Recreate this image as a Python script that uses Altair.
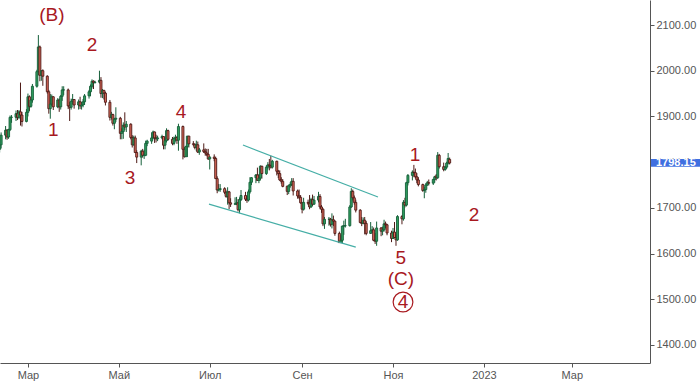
import altair as alt
import pandas as pd
import numpy as np

# ---- daily OHLC (business days 2022-02-10 .. 2022-12-09) ----
feb_o = [1828,1838,1859,1870,1855,1871,1898,1898,1906,1898,1910,1903,1889]
feb_h = [1843,1865,1879,1872,1873,1902,1903,1913,1914,1914,1974,1910,1916]
feb_l = [1821,1830,1850,1849,1851,1868,1886,1890,1892,1894,1880,1878,1887]
feb_c = [1838,1859,1870,1855,1871,1898,1898,1906,1898,1910,1903,1889,1909]

mar_o = [1909,1943,1922,1936,1966,1998,2052,1990,2000,1988,1954,1917,1927,1943,1921,1936,1921,1944,1958,1958,1923,1920,1933]
mar_h = [1950,1946,1937,1971,2002,2078,2055,2001,2003,1990,1958,1949,1948,1944,1940,1939,1947,1966,1966,1961,1932,1939,1949]
mar_l = [1900,1912,1919,1930,1963,1990,1977,1978,1967,1950,1906,1895,1923,1914,1918,1910,1915,1934,1947,1916,1890,1915,1926]
mar_c = [1943,1922,1936,1966,1998,2052,1990,2000,1988,1954,1917,1927,1943,1921,1936,1921,1944,1958,1958,1923,1920,1933,1937]

apr_o = [1937,1925,1932,1923,1925,1932,1945,1954,1966,1977,1974,1975,1979,1950,1957,1951,1931,1898,1904,1885,1894]
apr_h = [1938,1937,1943,1932,1938,1949,1958,1970,1981,1979,1978,2000,1986,1960,1958,1954,1936,1910,1906,1897,1920]
apr_l = [1917,1915,1916,1915,1920,1925,1939,1944,1961,1960,1972,1972,1941,1940,1937,1924,1891,1893,1880,1872,1888]
apr_c = [1925,1932,1923,1925,1932,1945,1954,1966,1977,1974,1975,1979,1950,1957,1951,1931,1898,1904,1885,1894,1896]

may_o = [1896,1863,1867,1881,1877,1883,1854,1838,1853,1821,1811,1824,1815,1815,1841,1846,1853,1866,1853,1851,1853,1856]
may_h = [1899,1874,1887,1909,1890,1885,1859,1858,1858,1826,1827,1829,1827,1847,1849,1865,1869,1867,1860,1858,1860,1857]
may_l = [1850,1850,1851,1870,1866,1850,1832,1836,1820,1798,1793,1810,1807,1813,1835,1840,1850,1842,1843,1846,1850,1828]
may_c = [1863,1867,1881,1877,1883,1854,1838,1853,1821,1811,1824,1815,1815,1841,1846,1853,1866,1853,1851,1853,1856,1837]

jun_o = [1837,1847,1869,1850,1841,1852,1854,1848,1878,1828,1812,1834,1857,1840,1839,1832,1838,1822,1827,1823,1820,1817]
jun_h = [1852,1874,1871,1855,1856,1860,1857,1884,1880,1833,1836,1857,1857,1846,1841,1847,1845,1831,1841,1830,1829,1829]
jun_l = [1828,1843,1847,1837,1837,1845,1840,1825,1806,1810,1811,1811,1832,1835,1828,1824,1820,1816,1820,1814,1813,1805]
jun_c = [1847,1869,1850,1841,1852,1854,1848,1878,1828,1812,1834,1857,1840,1839,1832,1838,1822,1827,1823,1820,1817,1807]

jul_o = [1807,1811,1808,1764,1739,1740,1742,1734,1725,1735,1711,1708,1709,1711,1696,1718,1727,1719,1717,1735,1756]
jul_h = [1813,1817,1812,1769,1752,1752,1745,1738,1745,1737,1721,1723,1724,1719,1723,1739,1735,1727,1740,1767,1767]
jul_l = [1784,1802,1763,1732,1736,1735,1730,1722,1707,1697,1702,1706,1706,1692,1688,1715,1715,1711,1714,1731,1750]
jul_c = [1811,1808,1764,1739,1740,1742,1734,1725,1735,1711,1708,1709,1711,1696,1718,1727,1719,1717,1735,1756,1766]

aug_o = [1766,1772,1760,1765,1791,1775,1789,1794,1792,1789,1802,1780,1775,1761,1758,1747,1736,1748,1751,1758,1737,1726,1723]
aug_h = [1774,1788,1774,1793,1792,1793,1800,1807,1814,1805,1803,1783,1782,1767,1763,1749,1751,1756,1765,1765,1740,1740,1728]
aug_l = [1754,1759,1754,1760,1764,1772,1784,1782,1786,1786,1771,1765,1759,1753,1745,1728,1730,1744,1748,1727,1720,1719,1709]
aug_c = [1772,1760,1765,1791,1775,1789,1794,1792,1789,1802,1780,1775,1761,1758,1747,1736,1748,1751,1758,1737,1726,1723,1711]

sep_o = [1711,1697,1712,1710,1702,1718,1708,1717,1725,1702,1697,1665,1675,1675,1664,1674,1671,1644,1624,1629,1660,1661]
sep_h = [1713,1722,1718,1728,1722,1729,1726,1735,1730,1706,1699,1680,1680,1678,1688,1683,1672,1648,1640,1661,1672,1676]
sep_l = [1688,1694,1706,1697,1700,1704,1707,1712,1697,1689,1660,1654,1661,1659,1655,1660,1639,1624,1624,1622,1641,1657]
sep_c = [1697,1712,1710,1702,1718,1708,1717,1725,1702,1697,1665,1675,1675,1664,1674,1671,1644,1624,1629,1660,1661,1661]

oct_o = [1661,1702,1736,1722,1712,1695,1668,1666,1673,1666,1644,1650,1652,1629,1627,1656,1649,1652,1665,1663,1645]
oct_h = [1706,1743,1740,1727,1718,1697,1680,1679,1680,1671,1669,1660,1657,1645,1670,1658,1659,1674,1670,1665,1650]
oct_l = [1659,1700,1716,1707,1690,1666,1660,1664,1642,1640,1643,1645,1627,1621,1617,1638,1640,1648,1655,1640,1625]
oct_c = [1702,1736,1722,1712,1695,1668,1666,1673,1666,1644,1650,1652,1629,1627,1656,1649,1652,1665,1663,1645,1633]

nov_o = [1633,1647,1635,1630,1681,1676,1712,1706,1755,1771,1778,1777,1768,1761,1751,1738,1740,1750,1755,1754,1762,1770]
nov_h = [1656,1669,1642,1684,1684,1717,1722,1757,1774,1782,1794,1786,1776,1767,1753,1746,1754,1759,1762,1764,1770,1774]
nov_l = [1632,1634,1617,1628,1664,1672,1701,1703,1749,1760,1767,1764,1754,1747,1735,1721,1733,1748,1749,1750,1755,1760]
nov_c = [1647,1635,1630,1681,1676,1712,1706,1755,1771,1778,1777,1768,1761,1751,1738,1740,1750,1755,1754,1762,1768,1766]

dec_o = [1766,1815,1790,1784,1789,1798,1806]
dec_h = [1822,1818,1799,1792,1801,1820,1810]
dec_l = [1763,1786,1780,1781,1785,1795,1795]
dec_c = [1815,1790,1784,1789,1798,1808,1798.15]

opens = feb_o + mar_o + apr_o + may_o + jun_o + jul_o + aug_o + sep_o + oct_o + nov_o + dec_o
highs = feb_h + mar_h + apr_h + may_h + jun_h + jul_h + aug_h + sep_h + oct_h + nov_h + dec_h
lows = feb_l + mar_l + apr_l + may_l + jun_l + jul_l + aug_l + sep_l + oct_l + nov_l + dec_l
closes = feb_c + mar_c + apr_c + may_c + jun_c + jul_c + aug_c + sep_c + oct_c + nov_c + dec_c

dates = pd.bdate_range("2022-02-10", "2022-12-09").strftime("%Y-%m-%d").tolist()
assert len(dates) == len(opens) == len(highs) == len(lows) == len(closes), (len(dates), len(opens))

# ---- Elliott wave labels ----
wave_text = ["(B)", "2", "1", "4", "3", "1", "2", "5", "(C)", "4"]
wave_date = ["2022-03-17T00:00:00Z", "2022-04-13T00:00:00Z", "2022-03-18T00:00:00Z",
             "2022-06-11T17:00:00Z", "2022-05-08T12:00:00Z", "2022-11-15T17:00:00Z",
             "2022-12-25T07:00:00Z", "2022-11-06T07:00:00Z", "2022-11-06T07:00:00Z",
             "2022-11-07T17:00:00Z"]
wave_price = [2122, 2056, 1870, 1910, 1765, 1815, 1684, 1590, 1544, 1494]

circle_date = ["2022-11-07T17:00:00Z"]
circle_price = [1494]

# ---- channel lines ----
chan_d1 = ["2022-07-23T07:00:00Z", "2022-06-30T12:00:00Z"]
chan_d2 = ["2022-10-21T22:00:00Z", "2022-10-07T00:00:00Z"]
chan_p1 = [1837.4, 1708.3]
chan_p2 = [1723.6, 1614.2]

y_ticks = [1400, 1500, 1600, 1700, 1800, 1900, 2000, 2100]

UP_FILL, UP_STROKE = "#2f9e5e", "#16603a"
DN_FILL, DN_STROKE = "#dc6a5a", "#4d1a16"
WAVE = "#a8191f"
AXIS = "#555555"
FONT = "Liberation Sans"

df = pd.DataFrame({"date": dates, "open": opens, "high": highs, "low": lows, "close": closes})
df["dir"] = np.where(df["close"] >= df["open"], "up", "down")

x_scale = alt.Scale(type="utc", padding=0, nice=False,
                    domain=[alt.DateTime(year=2022, month=2, date=10, hours=6, utc=True),
                            alt.DateTime(year=2023, month=4, date=22, hours=11, utc=True)])
y_scale = alt.Scale(domain=[1360.6, 2154.7], zero=False, nice=False, padding=0)

x_axis = alt.Axis(
    values=[alt.DateTime(year=2022, month=3, date=1, utc=True),
            alt.DateTime(year=2022, month=5, date=1, utc=True),
            alt.DateTime(year=2022, month=7, date=1, utc=True),
            alt.DateTime(year=2022, month=9, date=1, utc=True),
            alt.DateTime(year=2022, month=11, date=1, utc=True),
            alt.DateTime(year=2023, month=1, date=1, utc=True),
            alt.DateTime(year=2023, month=3, date=1, utc=True)],
    labelExpr="utcmonth(datum.value) == 0 ? '' + utcyear(datum.value) : "
              "['Янв','Фев','Мар','Апр','Май','Июн','Июл','Авг','Сен','Окт','Ноя','Дек'][utcmonth(datum.value)]",
    title=None, grid=False, tickSize=4, tickColor=AXIS, domainColor=AXIS,
    labelColor=AXIS, labelFont=FONT, labelFontSize=11, labelPadding=2,
    labelOverlap=False, labelFlush=False,
)
y_axis = alt.Axis(orient="right", values=y_ticks, format=".2f", title=None, grid=False,
                  tickSize=4, tickColor=AXIS, domainColor=AXIS, labelColor=AXIS,
                  labelFont=FONT, labelFontSize=11, labelPadding=2)

base = alt.Chart(df)

wicks = base.mark_rule(strokeWidth=1).encode(
    x=alt.X("date:T", scale=x_scale, axis=x_axis),
    y=alt.Y("low:Q", scale=y_scale, axis=y_axis),
    y2="high:Q",
    color=alt.Color("dir:N", scale=alt.Scale(domain=["up", "down"], range=[UP_STROKE, DN_STROKE]), legend=None),
)

bodies = base.mark_bar(size=2, strokeWidth=0.9).encode(
    x=alt.X("date:T", scale=x_scale),
    y=alt.Y("open:Q", scale=y_scale),
    y2="close:Q",
    fill=alt.Fill("dir:N", scale=alt.Scale(domain=["up", "down"], range=[UP_FILL, DN_FILL]), legend=None),
    stroke=alt.Stroke("dir:N", scale=alt.Scale(domain=["up", "down"], range=[UP_STROKE, DN_STROKE]), legend=None),
)

chan_df = pd.DataFrame({"d1": chan_d1, "d2": chan_d2, "p1": chan_p1, "p2": chan_p2})
channels = alt.Chart(chan_df).mark_rule(color="#45aea6", strokeWidth=1.2).encode(
    x=alt.X("d1:T", scale=x_scale), x2="d2:T",
    y=alt.Y("p1:Q", scale=y_scale), y2="p2:Q",
)

wave_df = pd.DataFrame({"date": wave_date, "price": wave_price, "label": wave_text})
waves = alt.Chart(wave_df).mark_text(font=FONT, fontSize=19, color=WAVE, baseline="middle", align="center").encode(
    x=alt.X("date:T", scale=x_scale),
    y=alt.Y("price:Q", scale=y_scale),
    text="label:N",
)

circ_df = pd.DataFrame({"date": circle_date, "price": circle_price})
circle = alt.Chart(circ_df).mark_point(shape="circle", size=390, filled=False, color=WAVE, strokeWidth=1.2, opacity=1).encode(
    x=alt.X("date:T", scale=x_scale),
    y=alt.Y("price:Q", scale=y_scale),
)

tag_df = pd.DataFrame({"price": [closes[-1]], "label": ["%.2f" % closes[-1]]})
tag_box = alt.Chart(tag_df).transform_calculate(
    top="datum.price + 8.5", bot="datum.price - 8"
).mark_rect(color="#3f6fe0").encode(
    x=alt.value(651), x2=alt.value(700),
    y=alt.Y("top:Q", scale=y_scale), y2="bot:Q",
)
tag_text = alt.Chart(tag_df).mark_text(font=FONT, fontSize=11, fontWeight="bold", color="white", align="left", baseline="middle").encode(
    x=alt.value(656),
    y=alt.Y("price:Q", scale=y_scale),
    text="label:N",
)

chart = alt.layer(wicks, bodies, channels, waves, circle, tag_box, tag_text).properties(
    width=650, height=363,
    autosize=alt.AutoSizeParams(type="none"),
    padding={"left": 0, "right": 50, "top": 0, "bottom": 19},
    background="white",
).configure_view(stroke=None)

chart.save("out.html", embed_options={"renderer": "svg", "actions": False})
